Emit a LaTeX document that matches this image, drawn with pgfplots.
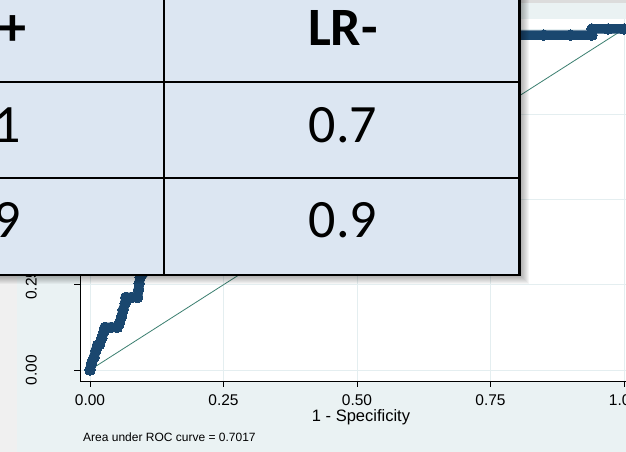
\documentclass[border=0pt]{standalone}
\usepackage{fontspec}
\setmainfont{Liberation Sans}
\newfontfamily\calibri{Carlito}
\usepackage{pgfplots}
\pgfplotsset{compat=1.18}
\definecolor{navy}{HTML}{1A476F}
\definecolor{diagc}{HTML}{3B7F70}
\definecolor{graphbg}{HTML}{EAF2F3}
\definecolor{gridc}{HTML}{E4EEF0}
\definecolor{leftgray}{HTML}{F0F0F0}
\definecolor{topgray}{HTML}{DCDCDC}
\definecolor{tablec}{HTML}{DCE6F2}
\begin{document}
\begin{tikzpicture}[x=1bp,y=1bp]
\path[use as bounding box] (0,0) rectangle (626,452);
\begin{scope}
\clip (0,0) rectangle (626,452);
\fill[leftgray] (0,0) rectangle (626,452);
\fill[graphbg] (17,0) rectangle (626,449);
\fill[topgray] (17,449) rectangle (626,452);
\fill[white] (80,71) rectangle (634,433);
\begin{axis}[
  at={(80bp,71bp)}, anchor=south west, scale only axis,
  width=554bp, height=362bp,
  xmin=-0.0187, xmax=1.0187, ymin=-0.0323, ymax=1.0293,
  axis x line*=bottom, axis y line*=left,
  axis line style={black, line width=0.8bp, -},
  xtick={0,0.25,0.5,0.75,1}, ytick={0,0.25,0.5,0.75,1},
  xticklabels={0.00,0.25,0.50,0.75,1.00},
  yticklabels={0.00,0.25,0.50,0.75,1.00},
  tick align=outside, major tick length=6bp,
  tick style={black, line width=0.8bp},
  grid=major, grid style={gridc, line width=0.9bp},
  /pgf/number format/assume math mode=true,
  ticklabel style={font=\fontsize{15.5bp}{18bp}\selectfont, inner sep=0pt, text=black},
  xticklabel style={anchor=north},
  yticklabel style={rotate=90, anchor=south},
  xticklabel shift=7bp, yticklabel shift=37bp,
  xlabel={1 - Specificity},
  xlabel style={at={(axis description cs:0.5,0)}, anchor=base, xshift=4bp, yshift=-41bp, inner sep=0pt, font=\fontsize{16.5bp}{19bp}\selectfont},
]
\addplot[diagc, line width=0.8bp] coordinates {(0,0) (1,1)};
\addplot[navy, line width=9.5bp, line join=round, line cap=round, mark=*, mark size=5.3bp, mark options={fill=navy, draw=navy, line width=0pt}]
coordinates {
(0,0) (0.003,0.020) (0.0075,0.037) (0.011,0.057) (0.014,0.073) (0.018,0.075)
(0.022,0.093) (0.026,0.112) (0.028,0.125) (0.040,0.125) (0.051,0.125)
(0.055,0.137) (0.059,0.156) (0.062,0.176) (0.066,0.196) (0.067,0.213)
(0.078,0.213) (0.089,0.213) (0.091,0.235) (0.092,0.254) (0.094,0.272)
(0.11,0.30) (0.14,0.34) (0.18,0.39) (0.23,0.45) (0.29,0.52) (0.35,0.59)
(0.42,0.66) (0.50,0.74) (0.58,0.81) (0.66,0.88) (0.73,0.93) (0.78,0.965)
(0.80,0.982) (0.85,0.982) (0.90,0.982) (0.94,0.982) (0.94,1.0) (0.97,1.0) (1,1)
};
\end{axis}
\node[anchor=base west, inner sep=0pt, font=\fontsize{12bp}{14bp}\selectfont] at (83,10) {Area under ROC curve = 0.7017};
% table shadow
\foreach \s in {0,...,11} {
  \fill[black, opacity=0.04] (-220, 179-\s) rectangle (517.5+\s, 480);
}
% table
\fill[tablec] (-220,177) rectangle (519.5,480);
\draw[black, line width=2.3bp] (-220,274) -- (519.5,274);
\draw[black, line width=2.3bp] (-220,369.7) -- (519.5,369.7);
\draw[black, line width=2.3bp] (164.3,177) -- (164.3,480);
\draw[black, line width=2.6bp] (-220,177) -- (519.5,177) -- (519.5,480);
\begin{scope}[every node/.style={inner sep=0pt, anchor=base, font=\calibri\fontsize{54bp}{60bp}\selectfont}]
\node at (343,406) {\bfseries LR-};
\node at (-13.5,406) {\bfseries LR+};
\node at (343,309) {0.7};
\node at (-13.5,309) {2.1};
\node at (343,214) {0.9};
\node at (-13.5,214) {1.9};
\end{scope}
\end{scope}
\end{tikzpicture}
\end{document}
